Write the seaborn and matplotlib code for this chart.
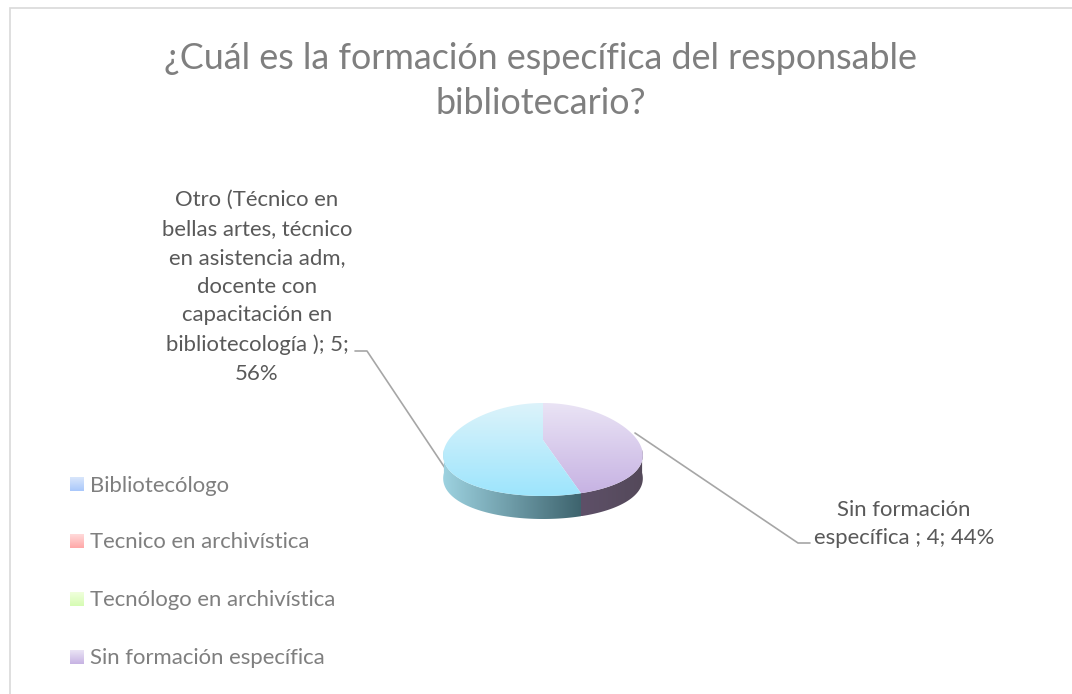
import numpy as np
import seaborn as sns
import matplotlib
from matplotlib import pyplot as plt
from matplotlib.patches import Polygon

# do not use X11
matplotlib.use('Agg')

categories = ['Bibliotecólogo', 'Tecnico en archivística', 'Tecnólogo en archivística',
              'Sin formación específica', 'Otro (Técnico en bellas artes, técnico en asistencia adm, '
              'docente con capacitación en bibliotecología )']
values = [0, 0, 0, 4, 5]
legend_names = categories[:4]
title = '¿Cuál es la formación específica del responsable\nbibliotecario?'

# top / bottom colours of each slice, left / right for the rim
top_colors = [('#d9e6fb', '#a9c8fb'), ('#ffdada', '#ffa8a8'), ('#f0ffdc', '#d6fcb4'),
              ('#eae4f5', '#c7b3e3'), ('#dcf3fa', '#9de5fd')]
rim_colors = {3: ('#5e5068', '#54495a'), 4: ('#9dd2e0', '#3e646e')}

W, H = 1072, 694
sns.set_theme(style='white')
plt.rcParams['font.family'] = ['Lato', 'DejaVu Sans']

fig = plt.figure(figsize=(W / 100, H / 100), dpi=100, facecolor='white')

# overlay in pixels for the texts and frame
page = fig.add_axes([0, 0, 1, 1])
page.set_xlim(0, W)
page.set_ylim(H, 0)
page.axis('off')

# pie axes, flattened so the circle turns into the ellipse
left, right, top, bottom = 443, 643, 403, 496
depth = 23
extra = 34
ax = fig.add_axes([left / W, 1 - (bottom + extra) / H, (right - left) / W, (bottom - top + extra) / H])
wedges, _ = ax.pie(values, startangle=90, counterclock=False, radius=1)
ax.set_aspect('auto')
unit = 2 / (bottom - top)
ax.axis('off')


def gradient_fill(pts, colors, horizontal=False):
    cmap = sns.blend_palette(colors, n_colors=128, as_cmap=True)
    ramp = np.linspace(0, 1, 128)
    grid = ramp[None, :] if horizontal else ramp[:, None]
    xs, ys = pts[:, 0], pts[:, 1]
    shape = Polygon(pts, closed=True, transform=ax.transData, fc='none', ec='none')
    ax.add_patch(shape)
    im = ax.imshow(grid, cmap=cmap, aspect='auto', origin='upper', vmin=0, vmax=1,
                   extent=(xs.min(), xs.max(), ys.min(), ys.max()), interpolation='bilinear')
    im.set_clip_path(shape)


apex_y = 9.5 * unit
# front of the pie slightly wider than the back, like the 3D view
persp = 0.13
for i, w in enumerate(wedges):
    w.set_facecolor('none')
    w.set_edgecolor('none')
    if values[i] == 0:
        continue
    t = np.radians(np.linspace(w.theta1, w.theta2, 240))
    arc = np.column_stack([np.cos(t) * (1 - persp * np.sin(t)), np.sin(t)])
    front = arc[arc[:, 1] <= 0]
    if len(front) > 1:
        low = front - [0, depth * unit]
        gradient_fill(np.vstack([front, low[::-1]]), rim_colors[i], horizontal=True)
    gradient_fill(np.vstack([[0, apex_y], arc]), top_colors[i])
ax.set_xlim(-1.01, 1.01)
ax.set_ylim(-1 - extra * unit, 1)
ax.set_aspect('auto')

# frame of the chart area, open on the right and bottom
page.plot([10, 10, W], [H, 8, 8], color='#d9d9d9', lw=1.2, solid_joinstyle='miter')

page.text(541, 81, title, ha='center', va='center', color='#7f7f7f', fontsize=25.8,
          linespacing=1.42)

total = sum(values)
pct = [round(v / total * 100) for v in values]
left_label = ('Otro (Técnico en\nbellas artes, técnico\nen asistencia adm,\ndocente con\n'
              f'capacitación en\nbibliotecología ); {values[4]};\n{pct[4]}%')
right_label = f'Sin formación\nespecífica ; {values[3]}; {pct[3]}%'
page.text(257, 287, left_label, ha='center', va='center', color='#595959', fontsize=15.9,
          linespacing=1.55)
page.text(904, 524, right_label, ha='center', va='center', color='#595959', fontsize=15.9,
          linespacing=1.55)

# leader lines
page.plot([355, 367, 445], [351, 351, 468], color='#a6a6a6', lw=1.2)
page.plot([635, 798, 810], [433, 543, 543], color='#a6a6a6', lw=1.2)

# legend, last entry is cut off in the reference
legend_y = [484, 541, 599, 657]
for name, colors, y in zip(legend_names, top_colors, legend_y):
    cmap = sns.blend_palette(colors, n_colors=32, as_cmap=True)
    page.imshow(np.linspace(0, 1, 32)[:, None], cmap=cmap, aspect='auto',
                extent=(70, 84, y + 7, y - 7), origin='upper')
    page.text(90, y + 1.5, name, ha='left', va='center', color='#7f7f7f', fontsize=15.9)
page.set_xlim(0, W)
page.set_ylim(H, 0)

fig.savefig('out.png', dpi=100)
